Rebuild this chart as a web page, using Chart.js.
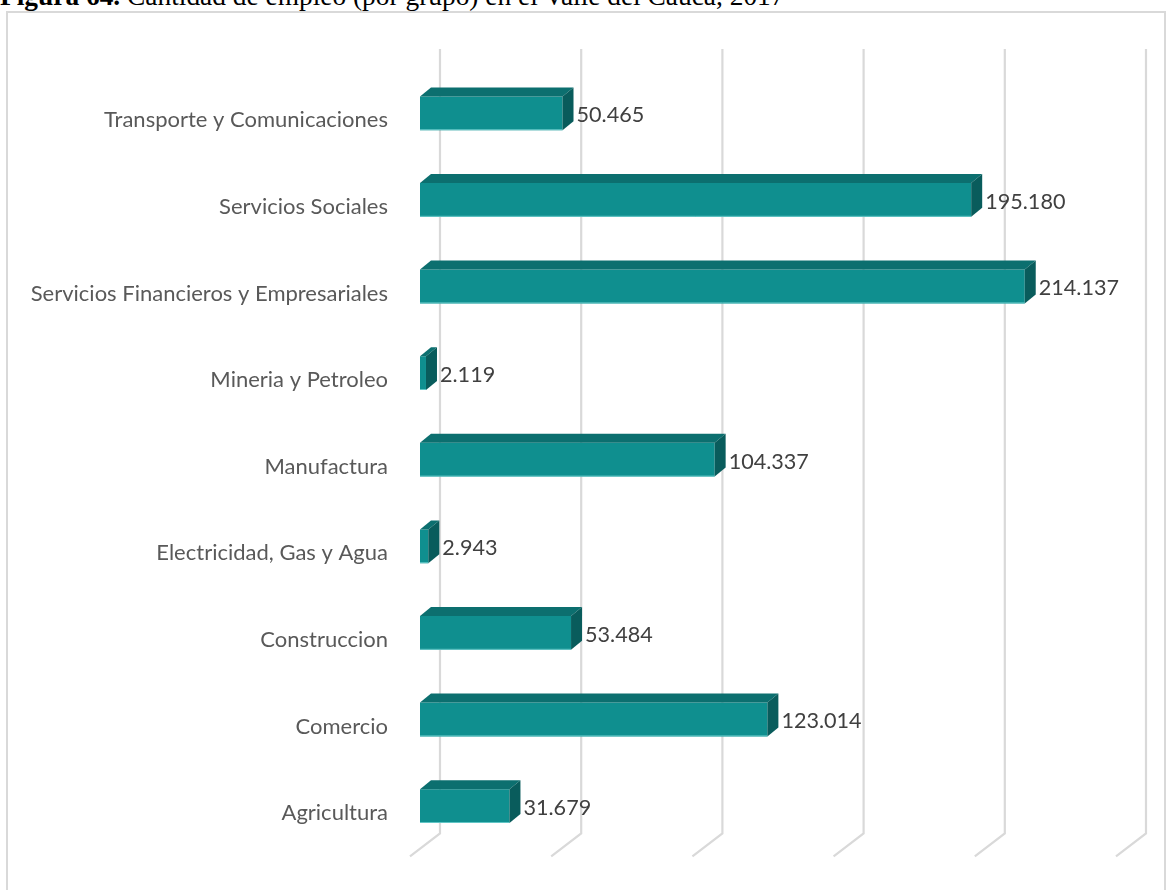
<!DOCTYPE html>
<html>
<head>
<meta charset="utf-8">
<script src="https://cdn.jsdelivr.net/npm/chart.js@4.4.1/dist/chart.umd.min.js"></script>
<style>
  html, body { margin: 0; padding: 0; background: #ffffff; overflow: hidden; }
  body { width: 1169px; height: 890px; position: relative; }
  #title { position: absolute; left: 0; top: -17px; font-family: "Liberation Serif", "Times New Roman", serif; font-size: 27.4px; line-height: 1; color: #000; white-space: nowrap; }
  #frame { position: absolute; left: 6px; top: 11px; width: 1160px; height: 900px; border: 2px solid #d9d9d9; box-sizing: border-box; }
  #wrap { position: absolute; left: 0; top: 0; width: 1169px; height: 890px; }
</style>
</head>
<body>
<div id="title"><b>Figura 64.</b> Cantidad de empleo (por grupo) en el Valle del Cauca, 2017</div>
<div id="frame"></div>
<div id="wrap"><canvas id="c" width="1169" height="890" style="width:1169px;height:890px"></canvas></div>
<script>
const categories = [
  "Transporte y Comunicaciones",
  "Servicios Sociales",
  "Servicios Financieros y Empresariales",
  "Mineria y Petroleo",
  "Manufactura",
  "Electricidad, Gas y Agua",
  "Construccion",
  "Comercio",
  "Agricultura"
];
const empleo = [50465, 195180, 214137, 2119, 104337, 2943, 53484, 123014, 31679];
const gridTicks = [0, 50000, 100000, 150000, 200000, 250000];

const FRONT = "#0f8f8f", TOP = "#0c6f6f", SIDE = "#095c5c", EDGE = "#63c6c6";
const DX = 11, DY = 9;
const FONT = "Lato, 'Open Sans', sans-serif";

function fmt(v) { return String(v).replace(/\B(?=(\d{3})+(?!\d))/g, "."); }

const depthPlugin = {
  id: "depth3d",
  beforeDatasetsDraw(chart) {
    const ctx = chart.ctx, xs = chart.scales.x, area = chart.chartArea;
    ctx.save();
    ctx.strokeStyle = "#d9d9d9";
    ctx.lineWidth = 2.2;
    gridTicks.forEach(v => {
      const px = xs.getPixelForValue(v);
      ctx.beginPath();
      ctx.moveTo(px + 20, area.top - 21);
      ctx.lineTo(px + 20, area.bottom - 16);
      ctx.lineTo(px - 10, area.bottom + 7);
      ctx.stroke();
    });
    ctx.restore();
  },
  afterDatasetsDraw(chart) {
    const ctx = chart.ctx;
    const meta = chart.getDatasetMeta(0);
    ctx.save();
    meta.data.forEach((bar, i) => {
      const p = bar.getProps(["x", "y", "base", "height"], true);
      const top = p.y - p.height / 2, bottom = p.y + p.height / 2;
      const l = p.base, r = p.x;
      ctx.fillStyle = TOP;
      ctx.beginPath();
      ctx.moveTo(l, top); ctx.lineTo(l + DX, top - DY); ctx.lineTo(r + DX, top - DY); ctx.lineTo(r, top);
      ctx.closePath(); ctx.fill();
      ctx.fillStyle = SIDE;
      ctx.beginPath();
      ctx.moveTo(r, top); ctx.lineTo(r + DX, top - DY); ctx.lineTo(r + DX, bottom - DY); ctx.lineTo(r, bottom);
      ctx.closePath(); ctx.fill();
      ctx.strokeStyle = EDGE; ctx.lineWidth = 1;
      ctx.beginPath(); ctx.moveTo(l, bottom - 0.5); ctx.lineTo(r, bottom - 0.5); ctx.stroke();
      ctx.fillStyle = "#404040";
      ctx.font = "21.6px " + FONT;
      ctx.textAlign = "left"; ctx.textBaseline = "middle";
      ctx.fillText(fmt(empleo[i]), r + DX + 3, p.y + 2);
    });
    ctx.restore();
  }
};

new Chart(document.getElementById("c"), {
  type: "bar",
  data: {
    labels: categories,
    datasets: [{
      data: empleo,
      backgroundColor: FRONT,
      borderWidth: 0,
      categoryPercentage: 1,
      barPercentage: 0.39
    }]
  },
  options: {
    indexAxis: "y",
    responsive: false,
    maintainAspectRatio: false,
    animation: false,
    devicePixelRatio: 1,
    layout: { padding: { top: 70, bottom: 40.6, left: 0, right: 43 } },
    plugins: { legend: { display: false }, tooltip: { enabled: false } },
    scales: {
      x: { display: false, min: 0, max: 250000 },
      y: {
        border: { display: false },
        grid: { display: false, drawTicks: false },
        ticks: { color: "#595959", font: { family: FONT, size: 22 }, padding: 32, labelOffset: 7 },
        afterFit(scale) { scale.width = 420; scale.paddingTop = 0; scale.paddingBottom = 0; }
      }
    }
  },
  plugins: [depthPlugin]
});
</script>
</body>
</html>
